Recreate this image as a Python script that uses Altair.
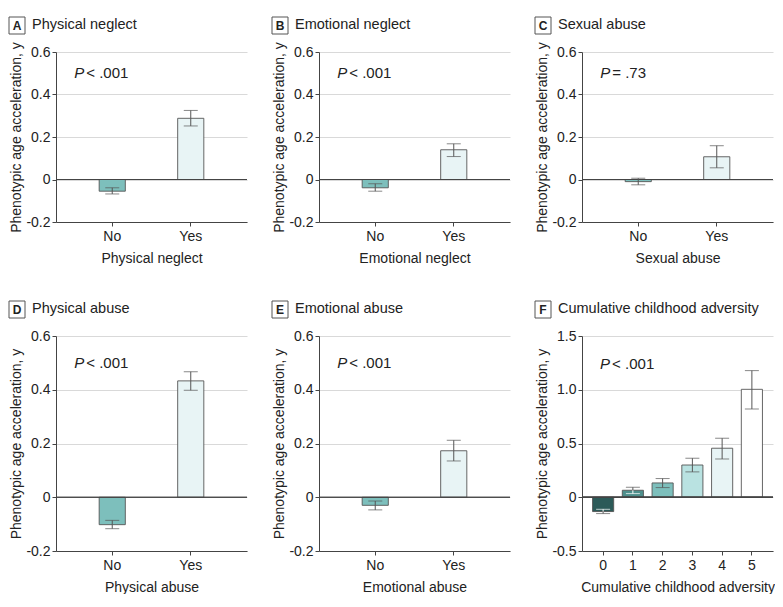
import altair as alt
import pandas as pd

panel_letters = ["A", "B", "C", "D", "E", "F"]
panel_titles = ["Physical neglect", "Emotional neglect", "Sexual abuse",
                "Physical abuse", "Emotional abuse", "Cumulative childhood adversity"]
p_values = ["< .001", "< .001", "= .73", "< .001", "< .001", "< .001"]
y_title = "Phenotypic age acceleration, y"

yes_no = ["No", "Yes"]
a_mean = [-0.055, 0.288]; a_lo = [-0.068, 0.252]; a_hi = [-0.039, 0.325]
b_mean = [-0.039, 0.140]; b_lo = [-0.055, 0.108]; b_hi = [-0.020, 0.168]
c_mean = [-0.010, 0.107]; c_lo = [-0.025, 0.055]; c_hi = [0.006, 0.159]
d_mean = [-0.102, 0.433]; d_lo = [-0.117, 0.398]; d_hi = [-0.086, 0.467]
e_mean = [-0.030, 0.173]; e_lo = [-0.047, 0.135]; e_hi = [-0.014, 0.212]

f_cats = ["0", "1", "2", "3", "4", "5"]
f_mean = [-0.133, 0.065, 0.133, 0.300, 0.456, 1.004]
f_lo = [-0.152, 0.034, 0.090, 0.236, 0.356, 0.821]
f_hi = [-0.112, 0.093, 0.174, 0.363, 0.549, 1.178]

yesno_colors = ["#7dbfbc", "#e8f4f5"]
yesno_inner = ["#555555", "#555555"]
f_colors = ["#2c5a58", "#4e8f8c", "#7dbfbc", "#b9e2e1", "#e8f4f5", "#ffffff"]
f_inner = ["#ffffff", "#ffffff", "#555555", "#555555", "#555555", "#555555"]

small_ticks = [-0.2, 0, 0.2, 0.4, 0.6]
f_ticks = [-0.5, 0, 0.5, 1.0, 1.5]

FONT = "Liberation Sans, Arial, sans-serif"
TXT = "#222222"
LINE = "#555555"


def panel(letter, title, pval, cats, mean, lo, hi, colors, inner, ticks,
          p_y, p_dx, height, pad_outer, pad_inner):
    df = pd.DataFrame({"cat": cats, "mean": mean, "lo": lo, "hi": hi,
                       "color": colors, "inner": inner})
    df["in_end"] = [l if m >= 0 else h for m, l, h in zip(mean, lo, hi)]
    df["out_end"] = [h if m >= 0 else l for m, l, h in zip(mean, lo, hi)]
    label_expr = "datum.value == 0 ? '0' : replace(format(datum.value, '.1f'), '\u2212', '-')"
    x = alt.X("cat:N", sort=cats,
              scale=alt.Scale(paddingOuter=pad_outer, paddingInner=pad_inner),
              axis=alt.Axis(title=title, labelAngle=0, grid=False, tickSize=4,
                            labelPadding=3, titlePadding=8, labelFontSize=14,
                            titleFontSize=14))
    y = alt.Y("mean:Q", scale=alt.Scale(domain=[ticks[0], ticks[-1]], nice=False, zero=False),
              axis=alt.Axis(title=y_title, values=ticks, labelExpr=label_expr,
                            grid=True, tickSize=4, labelPadding=2, titlePadding=2,
                            labelFontSize=14, titleFontSize=14))
    base = alt.Chart(df)
    bars = base.mark_bar(stroke=LINE, strokeWidth=0.9).encode(
        x=x, y=y, fill=alt.Fill("color:N", scale=None))
    zero = base.mark_rule(color="#444444", strokeWidth=1).encode(y=alt.datum(0))
    out_rule = base.mark_rule(color=LINE, strokeWidth=1).encode(
        x="cat:N", y="mean:Q", y2="out_end:Q")
    out_tick = base.mark_tick(color=LINE, size=14, thickness=1, orient="horizontal").encode(
        x="cat:N", y="out_end:Q")
    in_rule = base.mark_rule(strokeWidth=1).encode(
        x="cat:N", y="mean:Q", y2="in_end:Q", color=alt.Color("inner:N", scale=None))
    in_tick = base.mark_tick(size=14, thickness=1, orient="horizontal").encode(
        x="cat:N", y="in_end:Q", color=alt.Color("inner:N", scale=None))

    pdf = pd.DataFrame({"cat": [cats[0]], "mean": [p_y], "p": ["P"], "rest": [pval]})
    pbase = alt.Chart(pdf)
    p_it = pbase.mark_text(align="left", baseline="middle", fontStyle="italic",
                           font=FONT, fontSize=15, color=TXT, dx=p_dx).encode(
        x="cat:N", y="mean:Q", text="p:N")
    p_rest = pbase.mark_text(align="left", baseline="middle",
                             font=FONT, fontSize=15, color=TXT, dx=p_dx + 12).encode(
        x="cat:N", y="mean:Q", text="rest:N")

    box = pbase.mark_rect(fill="white", stroke=LINE, strokeWidth=1).encode(
        x=alt.value(-47), x2=alt.value(-31), y=alt.value(-35), y2=alt.value(-18))
    let = pbase.mark_text(fontWeight="bold", font=FONT, fontSize=12, color=TXT,
                          baseline="middle", align="center").encode(
        x=alt.value(-39), y=alt.value(-26.5), text=alt.value(letter))
    head = pbase.mark_text(font=FONT, fontSize=14.5, color=TXT, baseline="middle",
                           align="left").encode(
        x=alt.value(-24), y=alt.value(-27), text=alt.value(title))

    return alt.layer(bars, zero, out_rule, out_tick, in_rule, in_tick,
                     p_it, p_rest, box, let, head).properties(width=191, height=height)


pA = panel("A", panel_titles[0], p_values[0], yes_no, a_mean, a_lo, a_hi, yesno_colors,
           yesno_inner, small_ticks, 0.5, -38, 170, 0.55, 0.667)
pB = panel("B", panel_titles[1], p_values[1], yes_no, b_mean, b_lo, b_hi, yesno_colors,
           yesno_inner, small_ticks, 0.5, -38, 170, 0.55, 0.667)
pC = panel("C", panel_titles[2], p_values[2], yes_no, c_mean, c_lo, c_hi, yesno_colors,
           yesno_inner, small_ticks, 0.5, -38, 170, 0.55, 0.667)
pD = panel("D", panel_titles[3], p_values[3], yes_no, d_mean, d_lo, d_hi, yesno_colors,
           yesno_inner, small_ticks, 0.5, -38, 215, 0.55, 0.667)
pE = panel("E", panel_titles[4], p_values[4], yes_no, e_mean, e_lo, e_hi, yesno_colors,
           yesno_inner, small_ticks, 0.5, -38, 215, 0.55, 0.667)
pF = panel("F", panel_titles[5], p_values[5], f_cats, f_mean, f_lo, f_hi, f_colors,
           f_inner, f_ticks, 1.24, -3, 215, 0.355, 0.29)

top = alt.hconcat(pA, pB, pC, spacing=23)
bottom = alt.hconcat(pD, pE, pF, spacing=23)

chart = alt.vconcat(top, bottom, spacing=35).properties(
    padding={"left": 0, "top": 8, "right": 0, "bottom": 0}
).configure_view(stroke=None).configure_axis(
    labelFont=FONT, titleFont=FONT,
    labelColor=TXT, titleColor=TXT, titleFontWeight="normal",
    domainColor="#444444", tickColor="#444444", gridColor="#d9d9d9",
    domainWidth=1, tickWidth=1, gridWidth=1
)

chart.save("out.html", embed_options={"renderer": "svg", "actions": False})
